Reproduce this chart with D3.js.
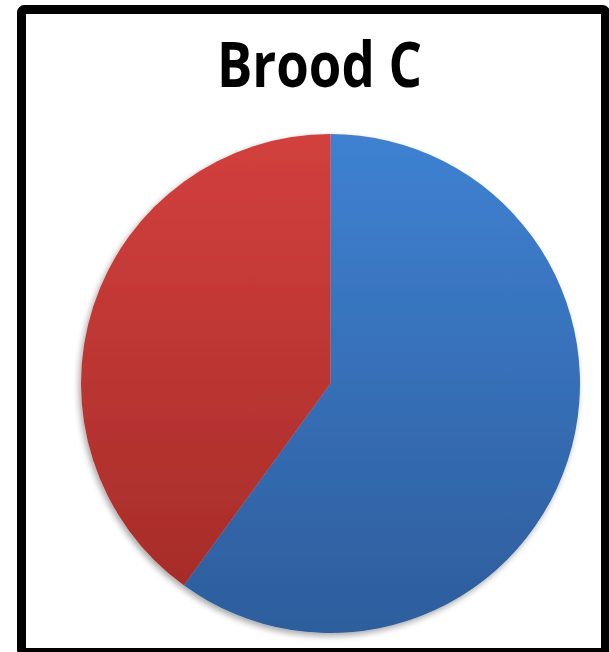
<!DOCTYPE html>
<html><head><meta charset="utf-8">
<script src="https://cdn.jsdelivr.net/npm/d3@7"></script>
<style>html,body{margin:0;padding:0;background:#fff;overflow:hidden}</style>
</head><body>
<script>
const title = "Brood C";
const categories = ["A", "B"];
const values = [60, 40];
const colorsTop = ["#3f81d2", "#d2403d"];
const colorsBottom = ["#2d5d9c", "#a22a27"];

const W = 609, H = 652;
const svg = d3.select("body").append("svg").attr("width", W).attr("height", H);
const defs = svg.append("defs");

const cx = 330.5, cy = 383.5, r = 249.5;

categories.forEach((c, i) => {
  const g = defs.append("linearGradient").attr("id", "g" + i)
    .attr("gradientUnits", "userSpaceOnUse")
    .attr("x1", 0).attr("y1", -r).attr("x2", 0).attr("y2", r);
  g.append("stop").attr("offset", "0%").attr("stop-color", colorsTop[i]);
  g.append("stop").attr("offset", "100%").attr("stop-color", colorsBottom[i]);
});

const f = defs.append("filter").attr("id", "sh").attr("x", "-20%").attr("y", "-20%").attr("width", "140%").attr("height", "140%");
f.append("feGaussianBlur").attr("in", "SourceAlpha").attr("stdDeviation", 3).attr("result", "b");
f.append("feOffset").attr("in", "b").attr("dx", -2).attr("dy", 3).attr("result", "o");
f.append("feComponentTransfer").attr("in", "o").attr("result", "o2")
  .append("feFuncA").attr("type", "linear").attr("slope", 0.35);
const m = f.append("feMerge");
m.append("feMergeNode").attr("in", "o2");
m.append("feMergeNode").attr("in", "SourceGraphic");

svg.append("rect").attr("x", 21.5).attr("y", 9.5).attr("width", 584).attr("height", 643)
  .attr("rx", 3).attr("fill", "#fff").attr("stroke", "#000").attr("stroke-width", 9);

svg.append("text").attr("x", 217).attr("y", 86.5)
  .attr("font-family", "'Open Sans', sans-serif").attr("font-weight", "bold")
  .attr("font-size", 63).attr("fill", "#000")
  .attr("textLength", 205).attr("lengthAdjust", "spacingAndGlyphs")
  .text(title);

const pie = d3.pie().sort(null).value(d => d);
const arc = d3.arc().innerRadius(0).outerRadius(r);
const g = svg.append("g").attr("transform", `translate(${cx},${cy})`).attr("filter", "url(#sh)");
g.selectAll("path").data(pie(values)).join("path")
  .attr("d", arc)
  .attr("fill", (d, i) => `url(#g${i})`);
</script>
</body></html>
